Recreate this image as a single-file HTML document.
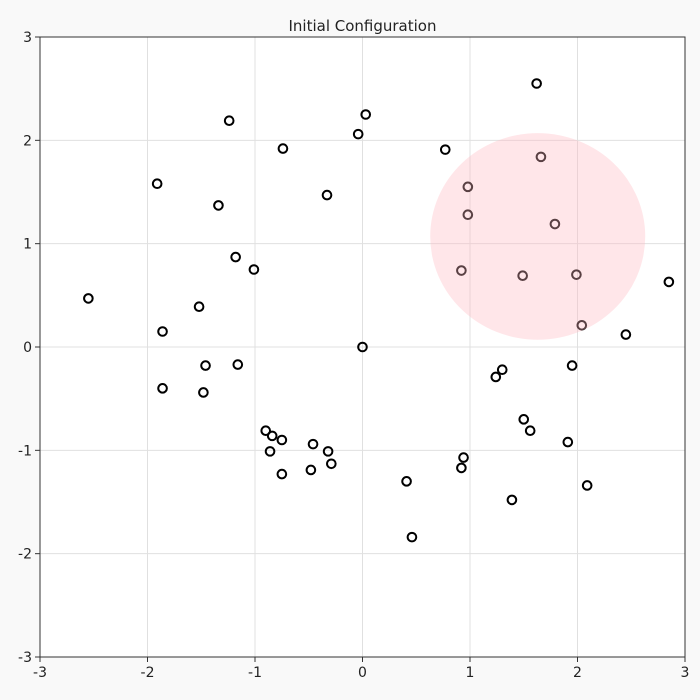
<!DOCTYPE html>
<html><head><meta charset="utf-8"><style>
html,body{margin:0;padding:0;background:#f9f9f9;}
svg{display:block;font-family:"DejaVu Sans","Liberation Sans",sans-serif;}
</style></head><body>
<svg id="chart" width="700" height="700">
<rect x="0" y="0" width="700" height="700" fill="#f9f9f9"/>
<text x="362.5" y="31" text-anchor="middle" font-size="15" fill="#222">Initial Configuration</text>
<g id="plot"></g>
</svg>
<script>
const xs=[1.62,0.03,-0.04,-1.24,-0.74,0.77,-1.91,-0.33,-1.34,1.66,0.98,0.98,1.79,-1.18,-1.01,0.92,1.49,1.99,-2.55,-1.52,-1.86,2.85,2.04,2.45,0.0,-1.46,-1.16,1.95,1.30,1.24,-1.86,-1.48,1.50,1.56,-0.90,-0.84,-0.75,-0.46,-0.86,-0.32,1.91,0.94,0.92,-0.29,-0.48,-0.75,0.41,2.09,1.39,0.46];
const ys=[2.55,2.25,2.06,2.19,1.92,1.91,1.58,1.47,1.37,1.84,1.55,1.28,1.19,0.87,0.75,0.74,0.69,0.70,0.47,0.39,0.15,0.63,0.21,0.12,0.0,-0.18,-0.17,-0.18,-0.22,-0.29,-0.40,-0.44,-0.70,-0.81,-0.81,-0.86,-0.90,-0.94,-1.01,-1.01,-0.92,-1.07,-1.17,-1.13,-1.19,-1.23,-1.30,-1.34,-1.48,-1.84];
const circleCenter=[1.63,1.07];
const circleRadius=[1.0];
const xTicks=[-3,-2,-1,0,1,2,3];
const yTicks=[-3,-2,-1,0,1,2,3];
const L=40,R=685,T=37,B=657;
const sx=v=>L+(v+3)/6*(R-L);
const sy=v=>B-(v+3)/6*(B-T);
const NS="http://www.w3.org/2000/svg";
const g=document.getElementById('plot');
function mk(t,a){const e=document.createElementNS(NS,t);for(const k in a)e.setAttribute(k,a[k]);g.appendChild(e);return e;}
let e=mk('rect',{x:L,y:T,width:R-L,height:B-T,fill:'#fff'});


xTicks.forEach(t=>{
 let l=mk('line',{x1:sx(t),x2:sx(t),y1:T,y2:B,stroke:'#e0e0e0','stroke-width':1});
 
 
 let k=mk('line',{x1:sx(t),x2:sx(t),y1:B,y2:B+5,stroke:'#333'});
 
 
 let tx=mk('text',{x:sx(t),y:B+20,'text-anchor':'middle','font-size':14,fill:'#222'});
 tx.textContent=t;
 
 
});
yTicks.forEach(t=>{
 let l=mk('line',{x1:L,x2:R,y1:sy(t),y2:sy(t),stroke:'#e0e0e0','stroke-width':1});
 
 
 let k=mk('line',{x1:L-5,x2:L,y1:sy(t),y2:sy(t),stroke:'#333'});
 
 
 let tx=mk('text',{x:L-8,y:sy(t)+5,'text-anchor':'end','font-size':14,fill:'#222'});
 tx.textContent=t;
 
 
});
let fr=mk('rect',{x:L,y:T,width:R-L,height:B-T,fill:'none',stroke:'#333','stroke-width':1});


xs.forEach((x,i)=>{
 let c=mk('circle',{cx:sx(x),cy:sy(ys[i]),r:4.3,fill:'none',stroke:'#000','stroke-width':2});
 
 
});
let el=mk('ellipse',{cx:sx(circleCenter[0]),cy:sy(circleCenter[1]),rx:circleRadius[0]*(R-L)/6,ry:circleRadius[0]*(B-T)/6,fill:'#ffb6c1','fill-opacity':0.35});


</script>
</body></html>
